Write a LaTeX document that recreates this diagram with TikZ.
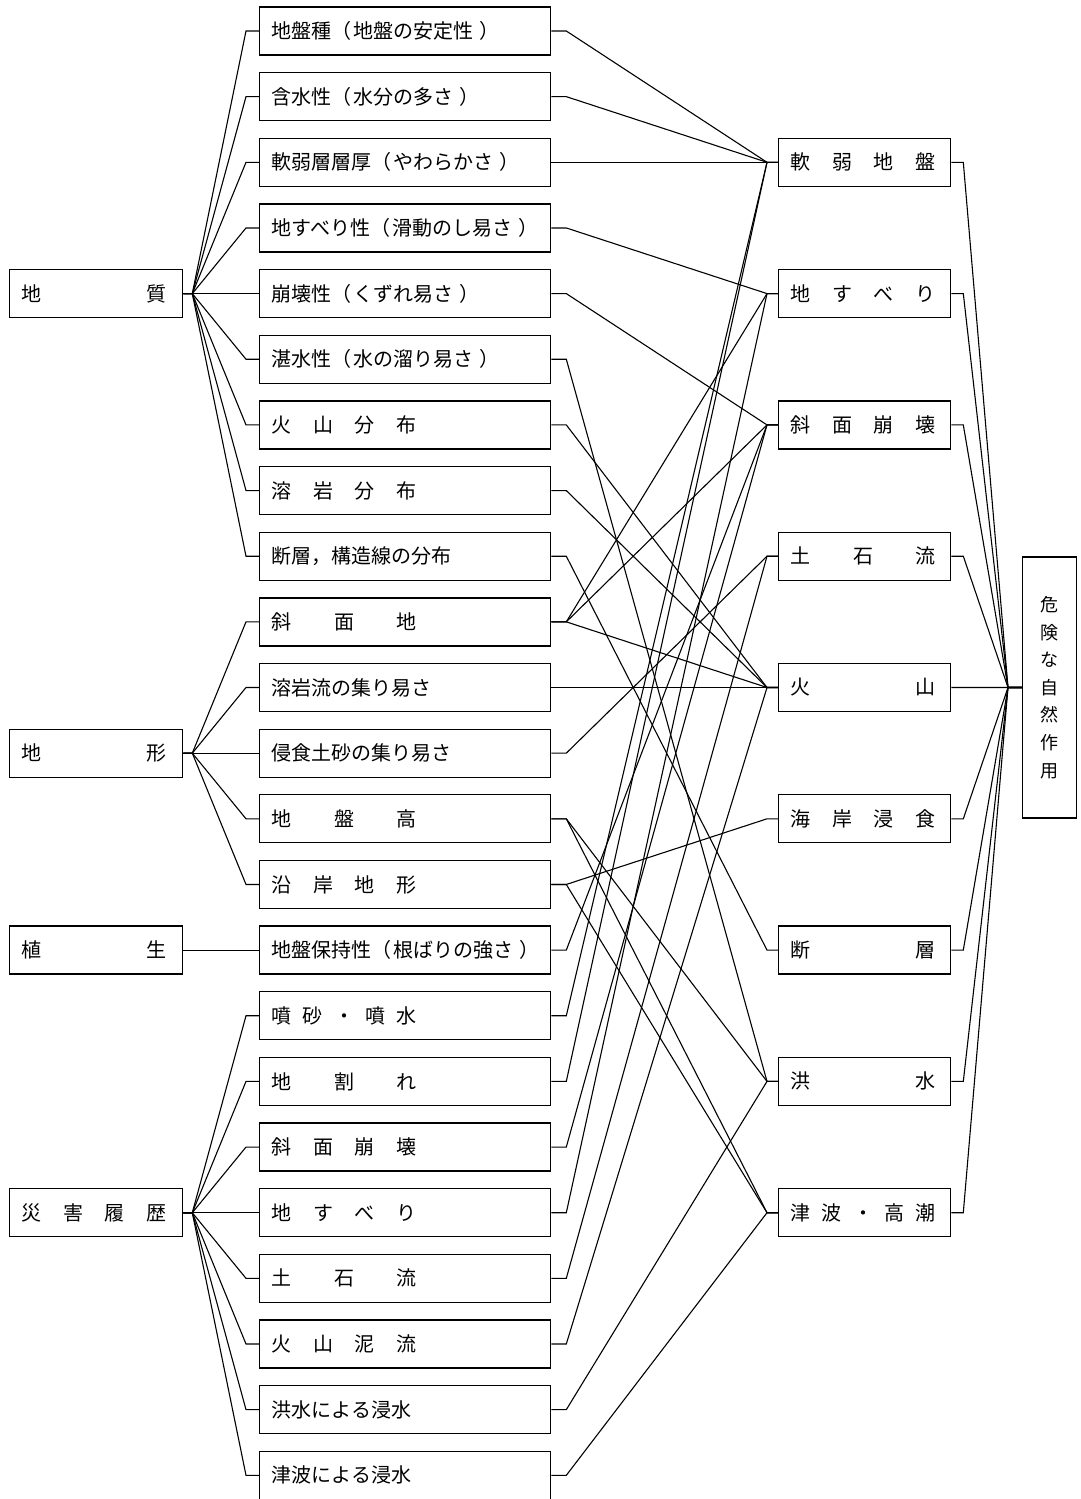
\documentclass[tikz,border=0pt]{standalone}
\usepackage{fontspec}
\setmainfont{Noto Sans CJK JP}
\usepackage{tikz}

\tikzset{
  box/.style={draw, line width=1.3pt, minimum height=48pt, inner xsep=12pt, inner ysep=0pt,
    anchor=west, align=left, font=\fontsize{20}{24}\selectfont},
  srcbox/.style={box, text width=149pt},
  midbox/.style={box, text width=267pt},
  hazbox/.style={box, text width=148pt},
  wire/.style={line width=1.1pt},
}
\newcommand{\spreadtext}[1]{\hbox to 145pt{#1}}
\newcommand{\inparen}[1]{（\hspace{2pt}#1\hspace{6pt}）}

\begin{document}
\begin{tikzpicture}[x=1pt, y=-1pt]
\useasboundingbox (0,0) rectangle (1080,1499);

\foreach \i/\t in {5/{\spreadtext{地\hfill 質}}, 12/{\spreadtext{地\hfill 形}},
    15/{\spreadtext{植\hfill 生}}, 19/{\spreadtext{災\hfill 害\hfill 履\hfill 歴}}}
  \node[srcbox] (s\i) at (9,{31+(\i-1)*65.65}) {\t};

\foreach \i/\t in {1/{地盤種\inparen{地盤の安定性}}, 2/{含水性\inparen{水分の多さ}},
    3/{軟弱層層厚\inparen{やわらかさ}}, 4/{地すべり性\inparen{滑動のし易さ}},
    5/{崩壊性\inparen{くずれ易さ}}, 6/{湛水性\inparen{水の溜り易さ}},
    7/{\spreadtext{火\hfill 山\hfill 分\hfill 布}}, 8/{\spreadtext{溶\hfill 岩\hfill 分\hfill 布}},
    9/{断層，構造線の分布}, 10/{\spreadtext{斜\hfill 面\hfill 地}}, 11/{溶岩流の集り易さ},
    12/{侵食土砂の集り易さ}, 13/{\spreadtext{地\hfill 盤\hfill 高}},
    14/{\spreadtext{沿\hfill 岸\hfill 地\hfill 形}}, 15/{地盤保持性\inparen{根ばりの強さ}},
    16/{\spreadtext{噴\hfill 砂\hfill ・\hfill 噴\hfill 水}}, 17/{\spreadtext{地\hfill 割\hfill れ}},
    18/{\spreadtext{斜\hfill 面\hfill 崩\hfill 壊}}, 19/{\spreadtext{地\hfill す\hfill べ\hfill り}},
    20/{\spreadtext{土\hfill 石\hfill 流}}, 21/{\spreadtext{火\hfill 山\hfill 泥\hfill 流}},
    22/{洪水による浸水}, 23/{津波による浸水}}
  \node[midbox] (m\i) at (259,{31+(\i-1)*65.65}) {\makebox[267pt][l]{\t}};

\foreach \j/\t in {1/{軟\hfill 弱\hfill 地\hfill 盤}, 2/{地\hfill す\hfill べ\hfill り},
    3/{斜\hfill 面\hfill 崩\hfill 壊}, 4/{土\hfill 石\hfill 流}, 5/{火\hfill 山},
    6/{海\hfill 岸\hfill 浸\hfill 食}, 7/{断\hfill 層}, 8/{洪\hfill 水},
    9/{津\hfill 波\hfill ・\hfill 高\hfill 潮}}
  \node[hazbox] (h\j) at (778,{31+2*\j*65.65}) {\spreadtext{\t}};

\node[draw, line width=1.3pt, anchor=west, minimum width=54pt, minimum height=261pt,
  align=center, font=\fontsize{18}{27.6}\selectfont] (risk) at (1022,687.5)
  {危\\険\\な\\自\\然\\作\\用};

\foreach \g/\m in {5/1,5/2,5/3,5/4,5/5,5/6,5/7,5/8,5/9,12/10,12/11,12/12,12/13,12/14,15/15,
    19/16,19/17,19/18,19/19,19/20,19/21,19/22,19/23}
  \draw[wire] (s\g.east) -- ([xshift=9pt]s\g.east) -- ([xshift=-13pt]m\m.west) -- (m\m.west);

\foreach \a/\b in {1/1,2/1,3/1,4/2,5/3,6/8,7/5,8/5,9/7,10/2,10/3,10/5,11/5,12/4,13/8,13/9,
    14/6,14/9,15/3,16/1,17/1,18/3,19/2,20/4,21/5,22/8,23/9}
  \draw[wire] (m\a.east) -- ++(15,0) -- ([xshift=-11pt]h\b.west) -- (h\b.west);

\foreach \j in {1,...,9}
  \draw[wire] (h\j.east) -- ++(12,0) -- ([xshift=-14pt]risk.west) -- (risk.west);
\end{tikzpicture}
\end{document}
